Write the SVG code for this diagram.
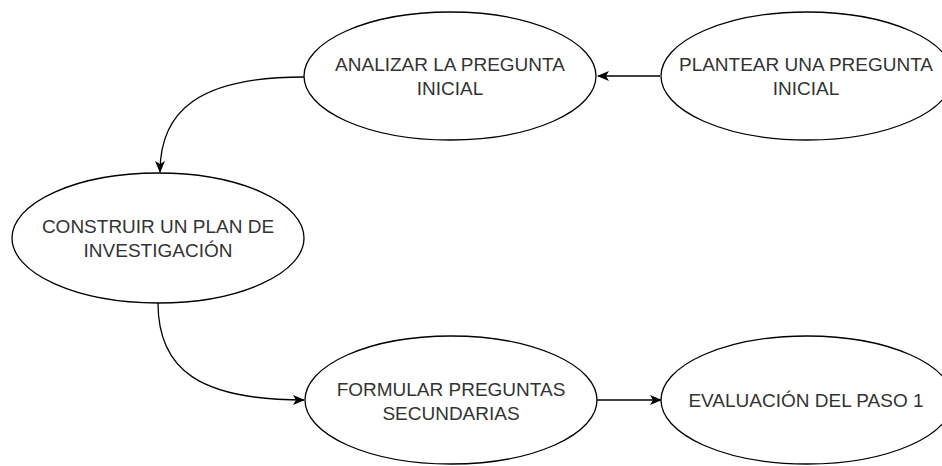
<svg xmlns="http://www.w3.org/2000/svg" width="942" height="466" viewBox="0 0 942 466">
<defs>
<style>
.node ellipse{fill:#fff;stroke:#000;stroke-width:1.3}
.node text{font-family:"Liberation Sans",Arial,sans-serif;font-size:19px;fill:#333;text-anchor:middle}
.edge{fill:none;stroke:#000;stroke-width:1.3}
</style>
<marker id="arr" viewBox="0 0 12 10" refX="11" refY="5" markerWidth="12" markerHeight="10" markerUnits="userSpaceOnUse" orient="auto">
<path d="M0,0 L12,5 L0,10 L3,5 Z" fill="#000"/>
</marker>
</defs>
<rect width="942" height="466" fill="#fff"/>
<g id="connectors">
<path class="edge" d="M660,76 L598,76" marker-end="url(#arr)"/>
<path class="edge" d="M304,77 C200,77 160,110 160,172" marker-end="url(#arr)"/>
<path class="edge" d="M158,303 C158,370 200,400 304,400" marker-end="url(#arr)"/>
<path class="edge" d="M597,400 L661,400" marker-end="url(#arr)"/>
</g>
<g id="n-analizar" class="node">
<ellipse cx="450" cy="76" rx="146" ry="64"/>
<text x="450" y="71">ANALIZAR LA PREGUNTA</text>
<text x="450" y="95">INICIAL</text>
</g>
<g id="n-plantear" class="node">
<ellipse cx="807" cy="76" rx="146" ry="64"/>
<text x="806" y="71">PLANTEAR UNA PREGUNTA</text>
<text x="806" y="95">INICIAL</text>
</g>
<g id="n-construir" class="node">
<ellipse cx="158" cy="238" rx="146" ry="65"/>
<text x="158" y="233">CONSTRUIR UN PLAN DE</text>
<text x="158" y="257">INVESTIGACIÓN</text>
</g>
<g id="n-formular" class="node">
<ellipse cx="451" cy="400" rx="146" ry="64"/>
<text x="451" y="396">FORMULAR PREGUNTAS</text>
<text x="451" y="420">SECUNDARIAS</text>
</g>
<g id="n-evaluacion" class="node">
<ellipse cx="807" cy="400" rx="146" ry="64"/>
<text x="806" y="407">EVALUACIÓN DEL PASO 1</text>
</g>
</svg>
